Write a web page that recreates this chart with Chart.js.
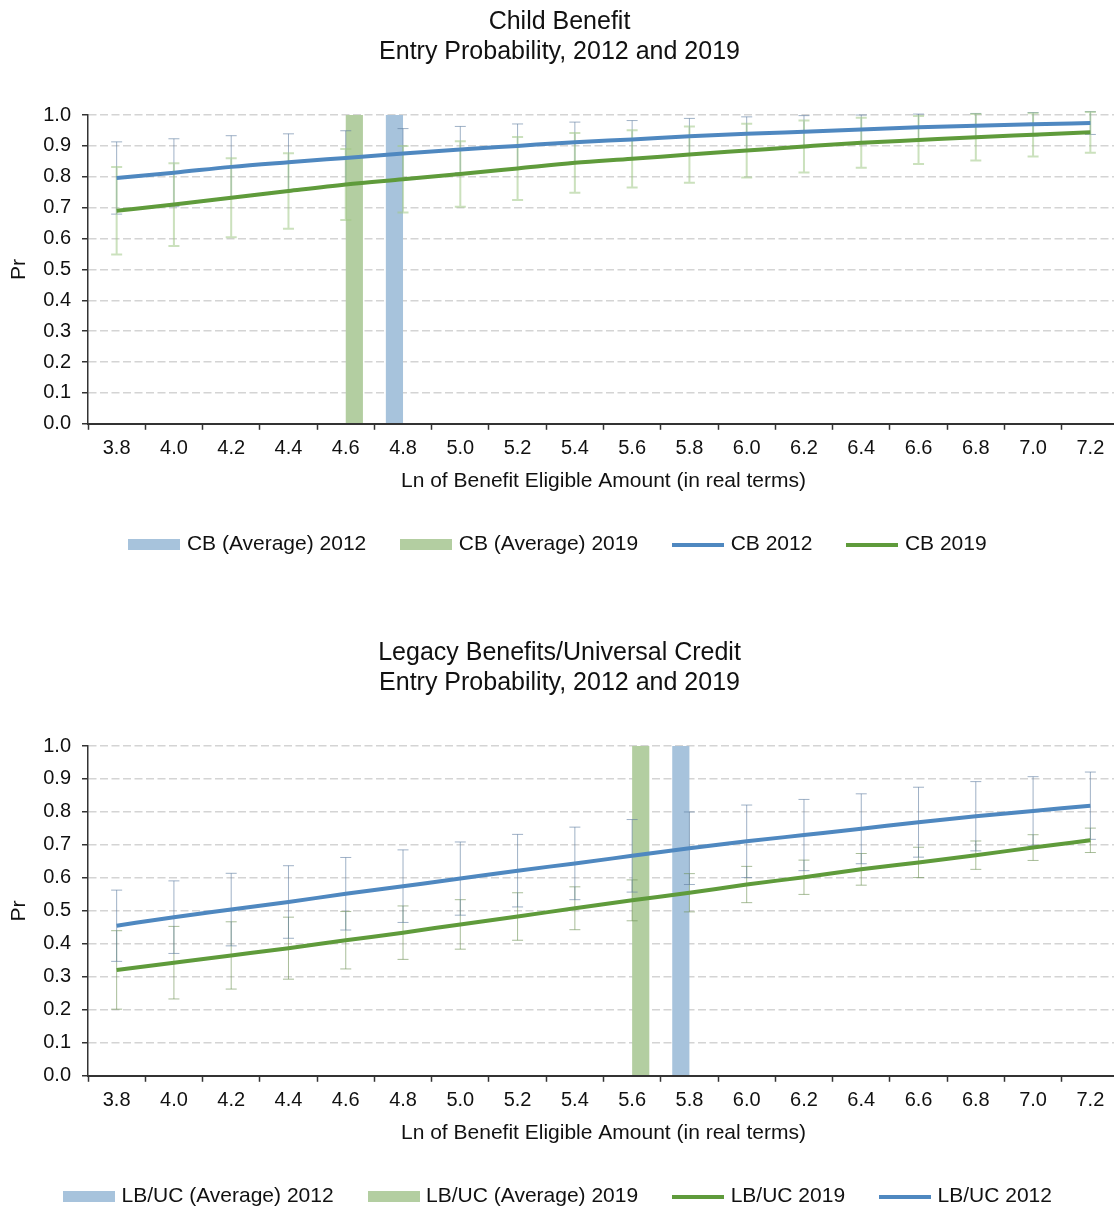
<!DOCTYPE html>
<html>
<head>
<meta charset="utf-8">
<title>Entry Probability, 2012 and 2019</title>
<script src="https://cdn.jsdelivr.net/npm/chart.js@4.4.1/dist/chart.umd.min.js"></script>
<style>
  html, body { margin: 0; padding: 0; background: #fff; overflow: hidden; }
  canvas { position: absolute; left: 0; }
  #cb-chart { top: 0; }
  #lbuc-chart { top: 631px; }
</style>
</head>
<body>
<canvas id="cb-chart" width="1119" height="565"></canvas>
<canvas id="lbuc-chart" width="1119" height="586"></canvas>
<script>
var categories = ['3.8', '4.0', '4.2', '4.4', '4.6', '4.8', '5.0', '5.2', '5.4',
  '5.6', '5.8', '6.0', '6.2', '6.4', '6.6', '6.8', '7.0', '7.2'];

// Child Benefit
var cbAverage2012 = [null, null, null, null, null, 1.0, null, null, null, null, null, null, null, null, null, null, null, null];
var cbAverage2019 = [null, null, null, null, 1.0, null, null, null, null, null, null, null, null, null, null, null, null, null];
var cb2012 = [0.796, 0.813, 0.832, 0.847, 0.861, 0.875, 0.888, 0.900, 0.912, 0.921, 0.931, 0.939, 0.946, 0.953, 0.960, 0.965, 0.970, 0.974];
var cb2012Err = [0.117, 0.110, 0.101, 0.092, 0.088, 0.081, 0.075, 0.071, 0.065, 0.061, 0.058, 0.055, 0.052, 0.047, 0.043, 0.040, 0.038, 0.037];
var cb2019 = [0.690, 0.710, 0.732, 0.754, 0.775, 0.792, 0.809, 0.827, 0.845, 0.858, 0.872, 0.885, 0.898, 0.910, 0.919, 0.928, 0.936, 0.944];
var cb2019Err = [0.142, 0.134, 0.128, 0.122, 0.115, 0.108, 0.106, 0.102, 0.097, 0.093, 0.091, 0.087, 0.084, 0.081, 0.078, 0.075, 0.070, 0.066];

// Legacy Benefits / Universal Credit
var lbucAverage2012 = [null, null, null, null, null, null, null, null, null, null, 1.0, null, null, null, null, null, null, null];
var lbucAverage2019 = [null, null, null, null, null, null, null, null, null, 1.0, null, null, null, null, null, null, null, null];
var lbuc2012 = [0.455, 0.481, 0.504, 0.527, 0.552, 0.575, 0.598, 0.622, 0.644, 0.667, 0.690, 0.711, 0.730, 0.749, 0.769, 0.787, 0.803, 0.819];
var lbuc2012Err = [0.108, 0.110, 0.110, 0.110, 0.110, 0.110, 0.111, 0.110, 0.110, 0.110, 0.110, 0.110, 0.108, 0.106, 0.106, 0.105, 0.104, 0.102];
var lbuc2019 = [0.321, 0.343, 0.365, 0.387, 0.411, 0.434, 0.459, 0.483, 0.508, 0.532, 0.555, 0.580, 0.602, 0.626, 0.647, 0.669, 0.692, 0.714];
var lbuc2019Err = [0.119, 0.110, 0.102, 0.094, 0.087, 0.081, 0.075, 0.072, 0.065, 0.062, 0.058, 0.055, 0.052, 0.048, 0.046, 0.043, 0.039, 0.037];

var yTicks = [0, 0.1, 0.2, 0.3, 0.4, 0.5, 0.6, 0.7, 0.8, 0.9, 1.0];

var BLUE = '#4f88c0';
var GREEN = '#5f9b3b';
var BLUE_BAR = '#a7c3dc';
var GREEN_BAR = '#b3cea1';

Chart.defaults.font.family = '"Liberation Sans", Arial, sans-serif';
Chart.defaults.color = '#111';

function legendSwatch(color, h) {
  var c = document.createElement('canvas');
  c.width = 52;
  c.height = h;
  var g = c.getContext('2d');
  g.fillStyle = color;
  g.fillRect(0, 0, 52, h);
  return c;
}

// error bars are drawn between the bars and the lines
var errorBarPlugin = {
  id: 'errorBars',
  beforeDatasetsDraw: function (chart) {
    chart.$errDone = false;
  },
  beforeDatasetDraw: function (chart, args) {
    if (chart.$errDone || args.meta.type !== 'line') {
      return;
    }
    chart.$errDone = true;
    var ctx = chart.ctx;
    var x = chart.scales.x;
    var y = chart.scales.y;
    chart.data.datasets.forEach(function (ds) {
      if (!ds.errors) {
        return;
      }
      ctx.save();
      ctx.strokeStyle = ds.errorColor;
      ctx.lineWidth = ds.errorWidth;
      for (var i = 0; i < ds.data.length; ++i) {
        var px = x.getPixelForValue(i);
        var top = y.getPixelForValue(ds.data[i] + ds.errors[i]);
        var bot = y.getPixelForValue(ds.data[i] - ds.errors[i]);
        ctx.beginPath();
        ctx.moveTo(px, top);
        ctx.lineTo(px, bot);
        ctx.moveTo(px - 5.5, top);
        ctx.lineTo(px + 5.5, top);
        ctx.moveTo(px - 5.5, bot);
        ctx.lineTo(px + 5.5, bot);
        ctx.stroke();
      }
      ctx.restore();
    });
  }
};

function barSet(label, data, color) {
  return {
    type: 'bar',
    label: label,
    data: data,
    backgroundColor: color,
    borderWidth: 0,
    categoryPercentage: 0.6,
    barPercentage: 1.0,
    order: 2,
    swatch: legendSwatch(color, 11),
  };
}

function lineSet(label, data, errors, color, errorColor, errorWidth) {
  return {
    type: 'line',
    label: label,
    data: data,
    errors: errors,
    errorColor: errorColor,
    errorWidth: errorWidth,
    borderColor: color,
    backgroundColor: color,
    borderWidth: 4,
    pointRadius: 0,
    cubicInterpolationMode: 'monotone',
    fill: false,
    order: 1,
    swatch: legendSwatch(color, 4),
  };
}

function makeChart(id, titleLines, datasets) {
  var ctx = document.getElementById(id).getContext('2d');
  return new Chart(ctx, {
    type: 'bar',
    data: {
      labels: categories,
      datasets: datasets,
    },
    plugins: [errorBarPlugin],
    options: {
      responsive: false,
      animation: false,
      devicePixelRatio: 1,
      layout: { padding: 0 },
      plugins: {
        tooltip: { enabled: false },
        title: {
          display: true,
          text: titleLines,
          color: '#111',
          font: { size: 25, weight: 'normal', lineHeight: 1.2 },
          padding: { top: 7, bottom: 48 },
        },
        legend: {
          position: 'bottom',
          labels: {
            font: { size: 21 },
            color: '#111',
            usePointStyle: true,
            pointStyleWidth: 44,
            padding: 38,
            sort: function (a, b) {
              return a.datasetIndex - b.datasetIndex;
            },
            generateLabels: function (chart) {
              var items = Chart.defaults.plugins.legend.labels.generateLabels(chart);
              items.forEach(function (it) {
                it.pointStyle = chart.data.datasets[it.datasetIndex].swatch;
              });
              return items;
            },
          },
        },
      },
      scales: {
        x: {
          offset: true,
          grid: {
            offset: true,
            drawOnChartArea: false,
            drawTicks: true,
            tickLength: 6,
            tickColor: '#333',
            tickWidth: 1.5,
          },
          border: { color: '#333', width: 2 },
          ticks: { font: { size: 20 }, padding: 7, color: '#111' },
          title: {
            display: true,
            text: 'Ln of Benefit Eligible Amount (in real terms)',
            font: { size: 21 },
            color: '#111',
            padding: { top: 1, bottom: 2 },
          },
        },
        y: {
          min: 0,
          max: 1,
          afterBuildTicks: function (scale) {
            scale.ticks = yTicks.map(function (v) { return { value: v }; });
          },
          grid: {
            color: '#d4d4d4',
            lineWidth: 1.5,
            tickLength: 6,
            tickColor: '#333',
            tickWidth: 1.5,
            tickBorderDash: [],
          },
          border: { color: '#333', width: 1.5, dash: [8, 3.5] },
          ticks: {
            font: { size: 20 },
            padding: 11,
            color: '#111',
            callback: function (v) { return Number(v).toFixed(1); },
          },
          title: {
            display: true,
            text: 'Pr',
            font: { size: 21 },
            color: '#111',
            padding: { top: 7, bottom: 0 },
          },
        },
      },
    },
  });
}

makeChart('cb-chart', ['Child Benefit', 'Entry Probability, 2012 and 2019'], [
  barSet('CB (Average) 2012', cbAverage2012, BLUE_BAR),
  barSet('CB (Average) 2019', cbAverage2019, GREEN_BAR),
  lineSet('CB 2012', cb2012, cb2012Err, BLUE, 'rgba(95,125,160,0.6)', 1),
  lineSet('CB 2019', cb2019, cb2019Err, GREEN, 'rgba(160,200,135,0.55)', 2),
]);

makeChart('lbuc-chart', ['Legacy Benefits/Universal Credit', 'Entry Probability, 2012 and 2019'], [
  barSet('LB/UC (Average) 2012', lbucAverage2012, BLUE_BAR),
  barSet('LB/UC (Average) 2019', lbucAverage2019, GREEN_BAR),
  lineSet('LB/UC 2019', lbuc2019, lbuc2019Err, GREEN, 'rgba(110,145,85,0.6)', 1),
  lineSet('LB/UC 2012', lbuc2012, lbuc2012Err, BLUE, 'rgba(95,125,160,0.6)', 1),
]);
</script>
</body>
</html>
